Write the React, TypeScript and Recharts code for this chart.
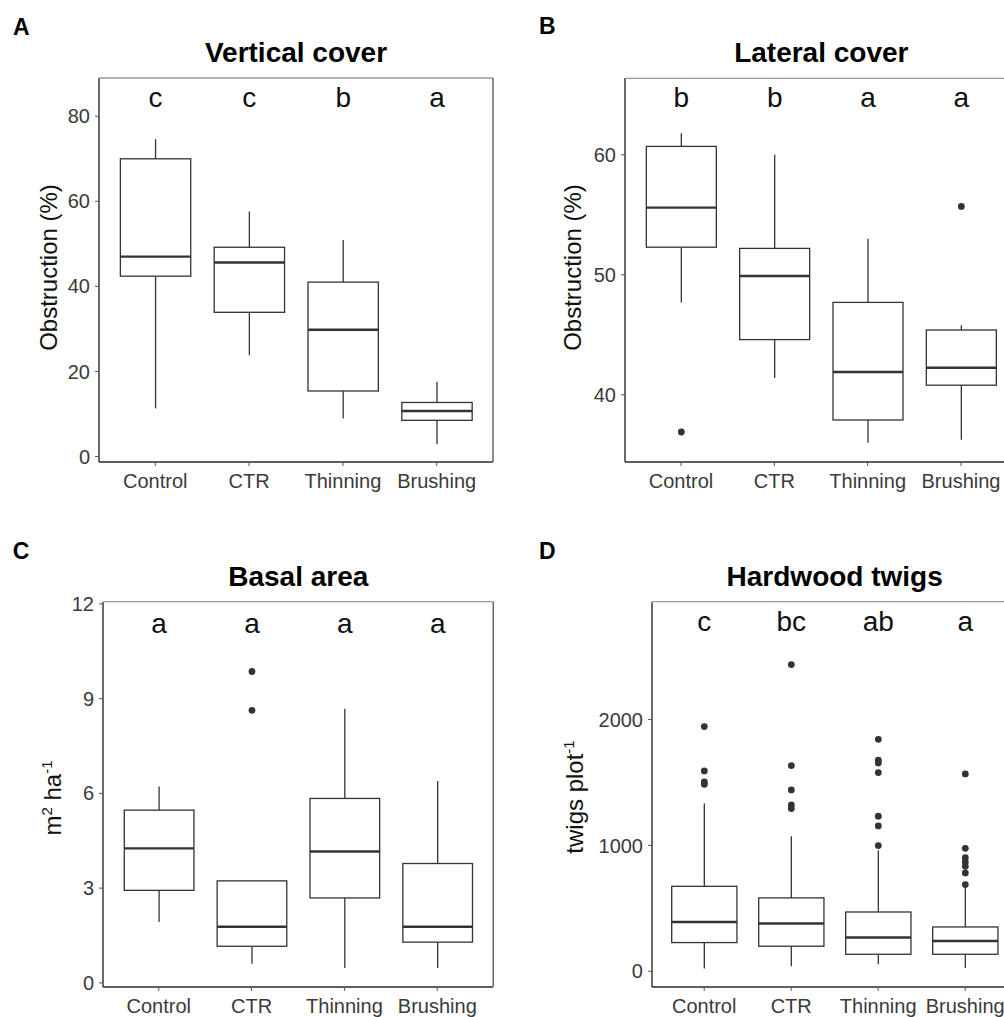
import React from 'react';
import { ComposedChart, Bar, XAxis, YAxis } from 'recharts';

const FONT = '"Liberation Sans", Arial, Helvetica, sans-serif';

// Treatments shown on every panel
const CATEGORIES = ['Control', 'CTR', 'Thinning', 'Brushing'];

// Five-number summaries per treatment: [lower whisker, Q1, median, Q3, upper whisker]
const verticalStats = [
  [11.3, 42.4, 47.0, 70.0, 74.6],
  [23.8, 33.9, 45.6, 49.2, 57.6],
  [8.9, 15.4, 29.8, 41.0, 50.9],
  [2.9, 8.5, 10.7, 12.7, 17.6],
];
const verticalOutliers = [[], [], [], []];
const verticalLetters = ['c', 'c', 'b', 'a'];
const verticalTicks = [0, 20, 40, 60, 80];

const lateralStats = [
  [47.7, 52.3, 55.6, 60.7, 61.8],
  [41.4, 44.6, 49.9, 52.2, 60.0],
  [36.0, 37.9, 41.9, 47.7, 53.0],
  [36.25, 40.8, 42.25, 45.4, 45.8],
];
const lateralOutliers = [[36.9], [], [], [55.7]];
const lateralLetters = ['b', 'b', 'a', 'a'];
const lateralTicks = [40, 50, 60];

const basalStats = [
  [1.93, 2.93, 4.26, 5.47, 6.22],
  [0.61, 1.16, 1.78, 3.23, 3.23],
  [0.47, 2.69, 4.16, 5.84, 8.68],
  [0.47, 1.29, 1.78, 3.78, 6.39],
];
const basalOutliers = [[], [9.86, 8.63], [], []];
const basalLetters = ['a', 'a', 'a', 'a'];
const basalTicks = [0, 3, 6, 9, 12];

const twigStats = [
  [21, 228, 392, 675, 1332],
  [40, 199, 379, 583, 1073],
  [56, 135, 268, 471, 961],
  [26, 135, 241, 352, 670],
];
const twigOutliers = [
  [1944, 1592, 1504, 1486],
  [2437, 1634, 1441, 1322, 1293],
  [1843, 1677, 1655, 1579, 1232, 1155, 999],
  [1568, 977, 903, 869, 834, 781, 689],
];
const twigLetters = ['c', 'bc', 'ab', 'a'];
const twigTicks = [0, 1000, 2000];

type Row = {
  cat: string;
  range: [number, number];
  q1: number;
  med: number;
  q3: number;
  outliers: number[];
  sig: string;
  sigY: number;
};

function buildRows(stats: number[][], outliers: number[][], letters: string[], letterY: number): Row[] {
  return CATEGORIES.map((cat, i) => ({
    cat,
    range: [stats[i][0], stats[i][4]],
    q1: stats[i][1],
    med: stats[i][2],
    q3: stats[i][3],
    outliers: outliers[i],
    sig: letters[i],
    sigY: letterY,
  }));
}

const BOX_STROKE = '#333333';
const LETTER_SIZE = 28;

// Draws one box-and-whisker glyph; values are placed along the bar's own pixel span
const BoxShape = (props: any) => {
  const { x, y, width, height, payload } = props;
  if (!payload) return null;
  const [lo, hi] = payload.range as [number, number];
  const top = Math.min(y, y + height);
  const bottom = Math.max(y, y + height);
  const toPx = (v: number) => (hi === lo ? bottom : bottom - ((bottom - top) * (v - lo)) / (hi - lo));
  const cx = x + width / 2;
  const yQ1 = toPx(payload.q1);
  const yQ3 = toPx(payload.q3);
  const yMed = toPx(payload.med);
  return (
    <g>
      <line x1={cx} x2={cx} y1={toPx(hi)} y2={yQ3} stroke={BOX_STROKE} strokeWidth={1.3} />
      <line x1={cx} x2={cx} y1={yQ1} y2={toPx(lo)} stroke={BOX_STROKE} strokeWidth={1.3} />
      <rect x={x} y={yQ3} width={width} height={yQ1 - yQ3} fill="#ffffff" stroke={BOX_STROKE} strokeWidth={1.3} />
      <line x1={x} x2={x + width} y1={yMed} y2={yMed} stroke={BOX_STROKE} strokeWidth={2.4} />
      {payload.outliers.map((v: number, k: number) => (
        <circle key={k} cx={cx} cy={toPx(v)} r={3.4} fill={BOX_STROKE} />
      ))}
      <text
        x={cx}
        y={toPx(payload.sigY) + 0.35 * LETTER_SIZE}
        textAnchor="middle"
        fontSize={LETTER_SIZE}
        fontFamily={FONT}
        fill="#111111"
      >
        {payload.sig}
      </text>
    </g>
  );
};

type Geom = { left: number; top: number; w: number; h: number };

const Y_AXIS_W = 70;
const MARGIN_TOP = 10;
const MARGIN_RIGHT = 10;
const X_AXIS_H = 40;

function Panel({
  geom,
  rows,
  ticks,
  domain,
}: {
  geom: Geom;
  rows: Row[];
  ticks: number[];
  domain: [number, number];
}) {
  const band = geom.w / 4.2;
  const pad = band * 0.1;
  const width = Y_AXIS_W + geom.w + MARGIN_RIGHT;
  const height = MARGIN_TOP + geom.h + X_AXIS_H;
  return (
    <div style={{ position: 'absolute', left: geom.left - Y_AXIS_W, top: geom.top - MARGIN_TOP }}>
      <ComposedChart
        width={width}
        height={height}
        data={rows}
        margin={{ top: MARGIN_TOP, right: MARGIN_RIGHT, left: 0, bottom: 0 }}
      >
        <XAxis
          dataKey="cat"
          type="category"
          interval={0}
          height={X_AXIS_H}
          padding={{ left: pad, right: pad }}
          tickSize={4}
          tickMargin={8}
          tick={{ fill: '#3a3a3a', fontSize: 20, fontFamily: FONT }}
          tickLine={{ stroke: '#555555' }}
          axisLine={{ stroke: '#2a2a2a', strokeWidth: 1.4 }}
        />
        <YAxis
          type="number"
          domain={domain}
          ticks={ticks}
          allowDataOverflow
          width={Y_AXIS_W}
          tickSize={4}
          tickMargin={5}
          tick={{ fill: '#3a3a3a', fontSize: 20, fontFamily: FONT }}
          tickLine={{ stroke: '#555555' }}
          axisLine={{ stroke: '#2a2a2a', strokeWidth: 1.4 }}
        />
        <Bar dataKey="range" barSize={band * 0.75} shape={BoxShape} isAnimationActive={false} />
      </ComposedChart>
    </div>
  );
}

const geomA: Geom = { left: 99, top: 78, w: 394, h: 384 };
const geomB: Geom = { left: 625.3, top: 78.3, w: 392, h: 384 };
const geomC: Geom = { left: 103.3, top: 601.7, w: 390, h: 385 };
const geomD: Geom = { left: 652, top: 601.7, w: 365.4, h: 385 };

const rowsA = buildRows(verticalStats, verticalOutliers, verticalLetters, 84.4);
const rowsB = buildRows(lateralStats, lateralOutliers, lateralLetters, 64.8);
const rowsC = buildRows(basalStats, basalOutliers, basalLetters, 11.4);
const rowsD = buildRows(twigStats, twigOutliers, twigLetters, 2780);

const centerX = (g: Geom) => g.left + g.w / 2;

// Top and right edges of a panel frame
function Frame({ g }: { g: Geom }) {
  return (
    <g>
      <line x1={g.left} x2={g.left + g.w} y1={g.top} y2={g.top} stroke="#9a9a9a" strokeWidth={1.3} />
      <line x1={g.left + g.w} x2={g.left + g.w} y1={g.top} y2={g.top + g.h} stroke="#666666" strokeWidth={1.5} />
    </g>
  );
}

function YTitle({ x, y, children }: { x: number; y: number; children: React.ReactNode }) {
  return (
    <text
      x={x}
      y={y}
      transform={`rotate(-90 ${x} ${y})`}
      textAnchor="middle"
      fontSize={24}
      fontFamily={FONT}
      fill="#111111"
    >
      {children}
    </text>
  );
}

export default function App() {
  return (
    <div
      style={{
        position: 'absolute',
        left: 0,
        top: 0,
        width: 1004,
        height: 1017,
        overflow: 'hidden',
        background: '#ffffff',
        fontFamily: FONT,
      }}
    >
      <Panel geom={geomA} rows={rowsA} ticks={verticalTicks} domain={[-1.3, 89.0]} />
      <Panel geom={geomB} rows={rowsB} ticks={lateralTicks} domain={[34.4, 66.4]} />
      <Panel geom={geomC} rows={rowsC} ticks={basalTicks} domain={[-0.13, 12.06]} />
      <Panel geom={geomD} rows={rowsD} ticks={twigTicks} domain={[-125, 2934]} />
      <svg
        width={1004}
        height={1017}
        style={{ position: 'absolute', left: 0, top: 0, pointerEvents: 'none' }}
      >
        <Frame g={geomA} />
        <Frame g={geomB} />
        <Frame g={geomC} />
        <Frame g={geomD} />
        <g fontFamily={FONT} fontWeight="bold" fill="#000000">
          <text x={13} y={35} fontSize={23}>A</text>
          <text x={539} y={33.5} fontSize={23}>B</text>
          <text x={12.7} y={558.5} fontSize={23}>C</text>
          <text x={539} y={559} fontSize={23}>D</text>
          <text x={centerX(geomA)} y={61.7} fontSize={28} textAnchor="middle">Vertical cover</text>
          <text x={centerX(geomB)} y={61.7} fontSize={28} textAnchor="middle">Lateral cover</text>
          <text x={centerX(geomC)} y={586} fontSize={28} textAnchor="middle">Basal area</text>
          <text x={centerX(geomD)} y={586} fontSize={28} textAnchor="middle">Hardwood twigs</text>
        </g>
        <YTitle x={57.3} y={267.5}>Obstruction (%)</YTitle>
        <YTitle x={580.5} y={267.5}>Obstruction (%)</YTitle>
        <YTitle x={61} y={798}>
          <tspan>m</tspan>
          <tspan dy={-9} fontSize={15}>2</tspan>
          <tspan dy={9}> ha</tspan>
          <tspan dy={-9} fontSize={15}>-1</tspan>
        </YTitle>
        <YTitle x={583} y={797}>
          <tspan>twigs plot</tspan>
          <tspan dy={-9} fontSize={15}>-1</tspan>
        </YTitle>
      </svg>
    </div>
  );
}
